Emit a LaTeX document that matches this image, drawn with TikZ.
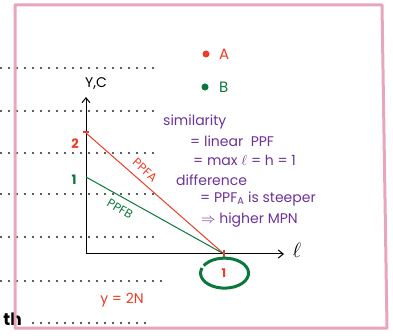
\documentclass[tikz,border=0pt]{standalone}
\usepackage{fontspec}
\setmainfont{Poppins}
\usetikzlibrary{arrows.meta}
\definecolor{myred}{RGB}{235,60,40}
\definecolor{mygreen}{RGB}{10,120,60}
\definecolor{mypurple}{RGB}{110,50,150}
\definecolor{mypink}{RGB}{232,165,190}
\begin{document}
\begin{tikzpicture}[x=1pt,y=-1pt,
  dots/.style={line width=2.4pt,line cap=round,dash pattern=on 0pt off 8pt,black!85},
  note/.style={text=mypurple,font=\fontsize{14}{14}\selectfont,anchor=west,inner sep=0pt},
  redtxt/.style={text=myred,font=\fontsize{12}{12}\selectfont\bfseries,inner sep=0pt},
  greentxt/.style={text=mygreen,font=\fontsize{12}{12}\selectfont\bfseries,inner sep=0pt},
  axis/.style={line width=1pt,-{Straight Barb[length=5pt,width=8pt]}}]
\useasboundingbox (0,0) rectangle (393,336);
% notebook dotted rules
\foreach \yy/\xe in {68/157,111/157,153/157,194/157,237/157,281/163}
  \draw[dots] (1,\yy) -- (\xe,\yy);
\draw[dots] (33,323) -- (148,323);
\node[font=\fontsize{17}{17}\selectfont\bfseries,anchor=east,inner sep=0pt] (th) at (22,319) {th};
% pink frame
\draw[mypink,line width=3pt,line join=round] (15,5) -- (382,5) -- (387,328) -- (15,328) -- cycle;
% axes
\coordinate (O) at (86,254);
\coordinate (ytip) at (86,97);
\coordinate (xtip) at (284,254);
\draw[axis] (O) -- (ytip);
\draw[axis] (O) -- (xtip);
\node[font=\fontsize{14}{14}\selectfont,inner sep=0pt] (ylab) at (96,84) {Y,C};
\node[font=\fontsize{22}{22}\selectfont,inner sep=0pt] (xlab) at (297,250) {$\ell$};
% PPF lines
\coordinate (a2) at (86,133);
\coordinate (b1) at (86,177);
\coordinate (l1) at (224,254);
\draw[myred,line width=1pt] (a2) -- (l1);
\draw[mygreen,line width=1pt] (b1) -- (l1);
\draw[myred,line width=2pt] (83,132) -- (89,132);
\draw[myred,line width=2.5pt] (224,250) -- (224,257);
\node[redtxt,font=\fontsize{13}{13}\selectfont\bfseries] (two) at (75,144) {2};
\node[greentxt,font=\fontsize{13}{13}\selectfont\bfseries] (one) at (74,180) {1};
\node[text=myred,font=\fontsize{12}{12}\selectfont,rotate=-42,inner sep=0pt] (ppfa) at (145,170) {PPFA};
\node[text=mygreen,font=\fontsize{12}{12}\selectfont,rotate=-30,inner sep=0pt] (ppfb) at (120,209) {PPFB};
% circled 1
\node[redtxt] (lone) at (224,273) {1};
\draw[mygreen,line width=3pt] (lone.center) ++(-22,-5) arc[start angle=200,end angle=-150,x radius=24,y radius=15];
% y = 2N
\node[text=myred,font=\fontsize{14}{14}\selectfont,inner sep=0pt] (y2n) at (122,300) {y = 2N};
% legend
\fill[myred] (206,54) circle (3.5);
\node[redtxt,font=\fontsize{15}{15}\selectfont,anchor=west] (A) at (219,54) {A};
\fill[mygreen] (205,87) circle (3.5);
\node[greentxt,font=\fontsize{15}{15}\selectfont,anchor=west] (B) at (219,87) {B};
% notes
\node[note] (n1) at (163,122) {similarity};
\node[note] (n2) at (190,141) {= linear\ \ PPF};
\node[note] (n3) at (193,160) {= max $\ell$ = h = 1};
\node[note] (n4) at (176,180) {difference};
\node[note] (n5) at (200,199) {= PPF$_{\mathrm{A}}$ is steeper};
\node[note] (n6) at (201,220) {$\Rightarrow$ higher MPN};
\end{tikzpicture}
\end{document}
